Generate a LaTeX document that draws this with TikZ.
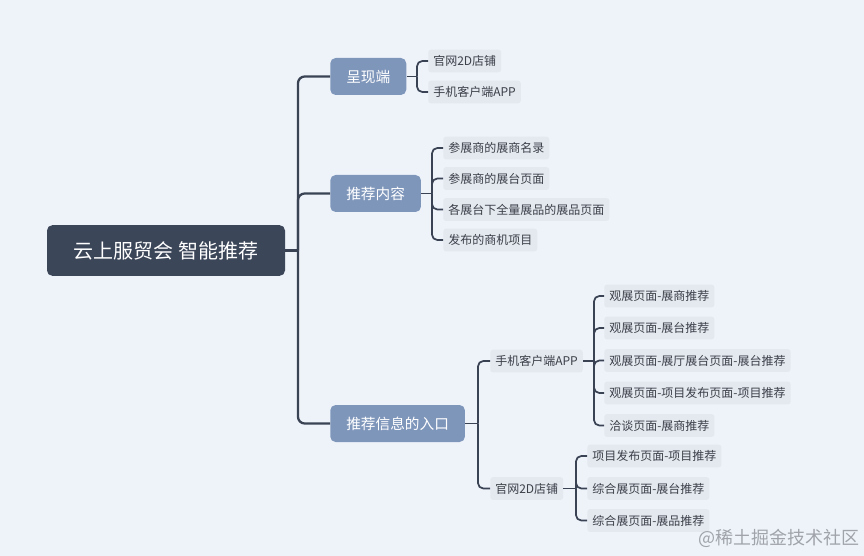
\documentclass[tikz,border=0pt]{standalone}
\usepackage{fontspec}
\setmainfont{Noto Sans CJK SC}
\definecolor{bgc}{HTML}{EEF3FA}
\definecolor{rootc}{HTML}{3C4659}
\definecolor{brc}{HTML}{7F96BB}
\definecolor{leafc}{HTML}{E4E9F0}
\definecolor{linec}{HTML}{3A4354}
\definecolor{leaftext}{HTML}{3A3F48}
\definecolor{wmc}{HTML}{A0A4AA}
\begin{document}
\begin{tikzpicture}[x=0.75pt,y=-0.75pt,
  rootbox/.style={fill=rootc,rounded corners=4pt,text=white,font=\fontsize{15}{18}\selectfont,minimum width=178.5pt,minimum height=38pt,inner sep=0pt},
  branchbox/.style={fill=brc,rounded corners=4pt,text=white,font=\fontsize{11}{13}\selectfont,minimum height=27.75pt,inner xsep=12pt,inner ysep=0pt,anchor=west},
  leafbox/.style={fill=leafc,rounded corners=2pt,text=leaftext,font=\fontsize{9}{11}\selectfont,minimum height=17pt,inner xsep=3.75pt,inner ysep=0pt,anchor=west},
  mainline/.style={draw=linec,line width=1.7pt,rounded corners=5pt},
  subline/.style={draw=linec,line width=1.3pt,rounded corners=4pt}]
\fill[bgc] (0,0) rectangle (864,556);
% root
\node[rootbox] (root) at (166,250.5) {云上服贸会 智能推荐};
% branches
\node[branchbox] (b1) at (330,76.5) {呈现端};
\node[branchbox] (b2) at (330,193.5) {推荐内容};
\node[branchbox] (b3) at (330,423.5) {推荐信息的入口};
% leaves of b1
\node[leafbox] (c11) at (428,61) {官网2D店铺};
\node[leafbox] (c12) at (428,92) {手机客户端APP};
% leaves of b2
\node[leafbox] (c21) at (443,148) {参展商的展商名录};
\node[leafbox] (c22) at (443,178.5) {参展商的展台页面};
\node[leafbox] (c23) at (443,209.5) {各展台下全量展品的展品页面};
\node[leafbox] (c24) at (443,240) {发布的商机项目};
% b3 sub
\node[leafbox] (d1) at (490,361) {手机客户端APP};
\node[leafbox] (d2) at (490,488.5) {官网2D店铺};
\node[leafbox] (e1) at (604,296) {观展页面-展商推荐};
\node[leafbox] (e2) at (604,328) {观展页面-展台推荐};
\node[leafbox] (e3) at (604,360.5) {观展页面-展厅展台页面-展台推荐};
\node[leafbox] (e4) at (604,393) {观展页面-项目发布页面-项目推荐};
\node[leafbox] (e5) at (604,425.5) {洽谈页面-展商推荐};
\node[leafbox] (f1) at (587,456) {项目发布页面-项目推荐};
\node[leafbox] (f2) at (587,488.5) {综合展页面-展台推荐};
\node[leafbox] (f3) at (587,520.5) {综合展页面-展品推荐};
% watermark
\node[text=wmc,font=\fontsize{13.5}{16}\selectfont,anchor=east,inner sep=0pt] (wm) at (860,538) {@稀土掘金技术社区};
% connectors
\coordinate (t0) at (298,250.5);
\draw[mainline] (root.east) -- (t0);
\foreach \b in {b1,b2,b3} \draw[mainline] (t0) |- (\b.west);
\coordinate (k1) at (417,76.5);
\draw[subline] (b1.east) -- (k1);
\foreach \c in {c11,c12} \draw[subline] (k1) |- (\c.west);
\coordinate (k2) at (432,193.5);
\draw[subline] (b2.east) -- (k2);
\foreach \c in {c21,c22,c23,c24} \draw[subline] (k2) |- (\c.west);
\coordinate (k3) at (478,423.5);
\draw[subline] (b3.east) -- (k3);
\foreach \c in {d1,d2} \draw[subline] (k3) |- (\c.west);
\coordinate (k4) at (594,361);
\draw[subline] (d1.east) -- (k4);
\foreach \c in {e1,e2,e3,e4,e5} \draw[subline] (k4) |- (\c.west);
\coordinate (k5) at (576,488.5);
\draw[subline] (d2.east) -- (k5);
\foreach \c in {f1,f2,f3} \draw[subline] (k5) |- (\c.west);
\end{tikzpicture}
\end{document}
